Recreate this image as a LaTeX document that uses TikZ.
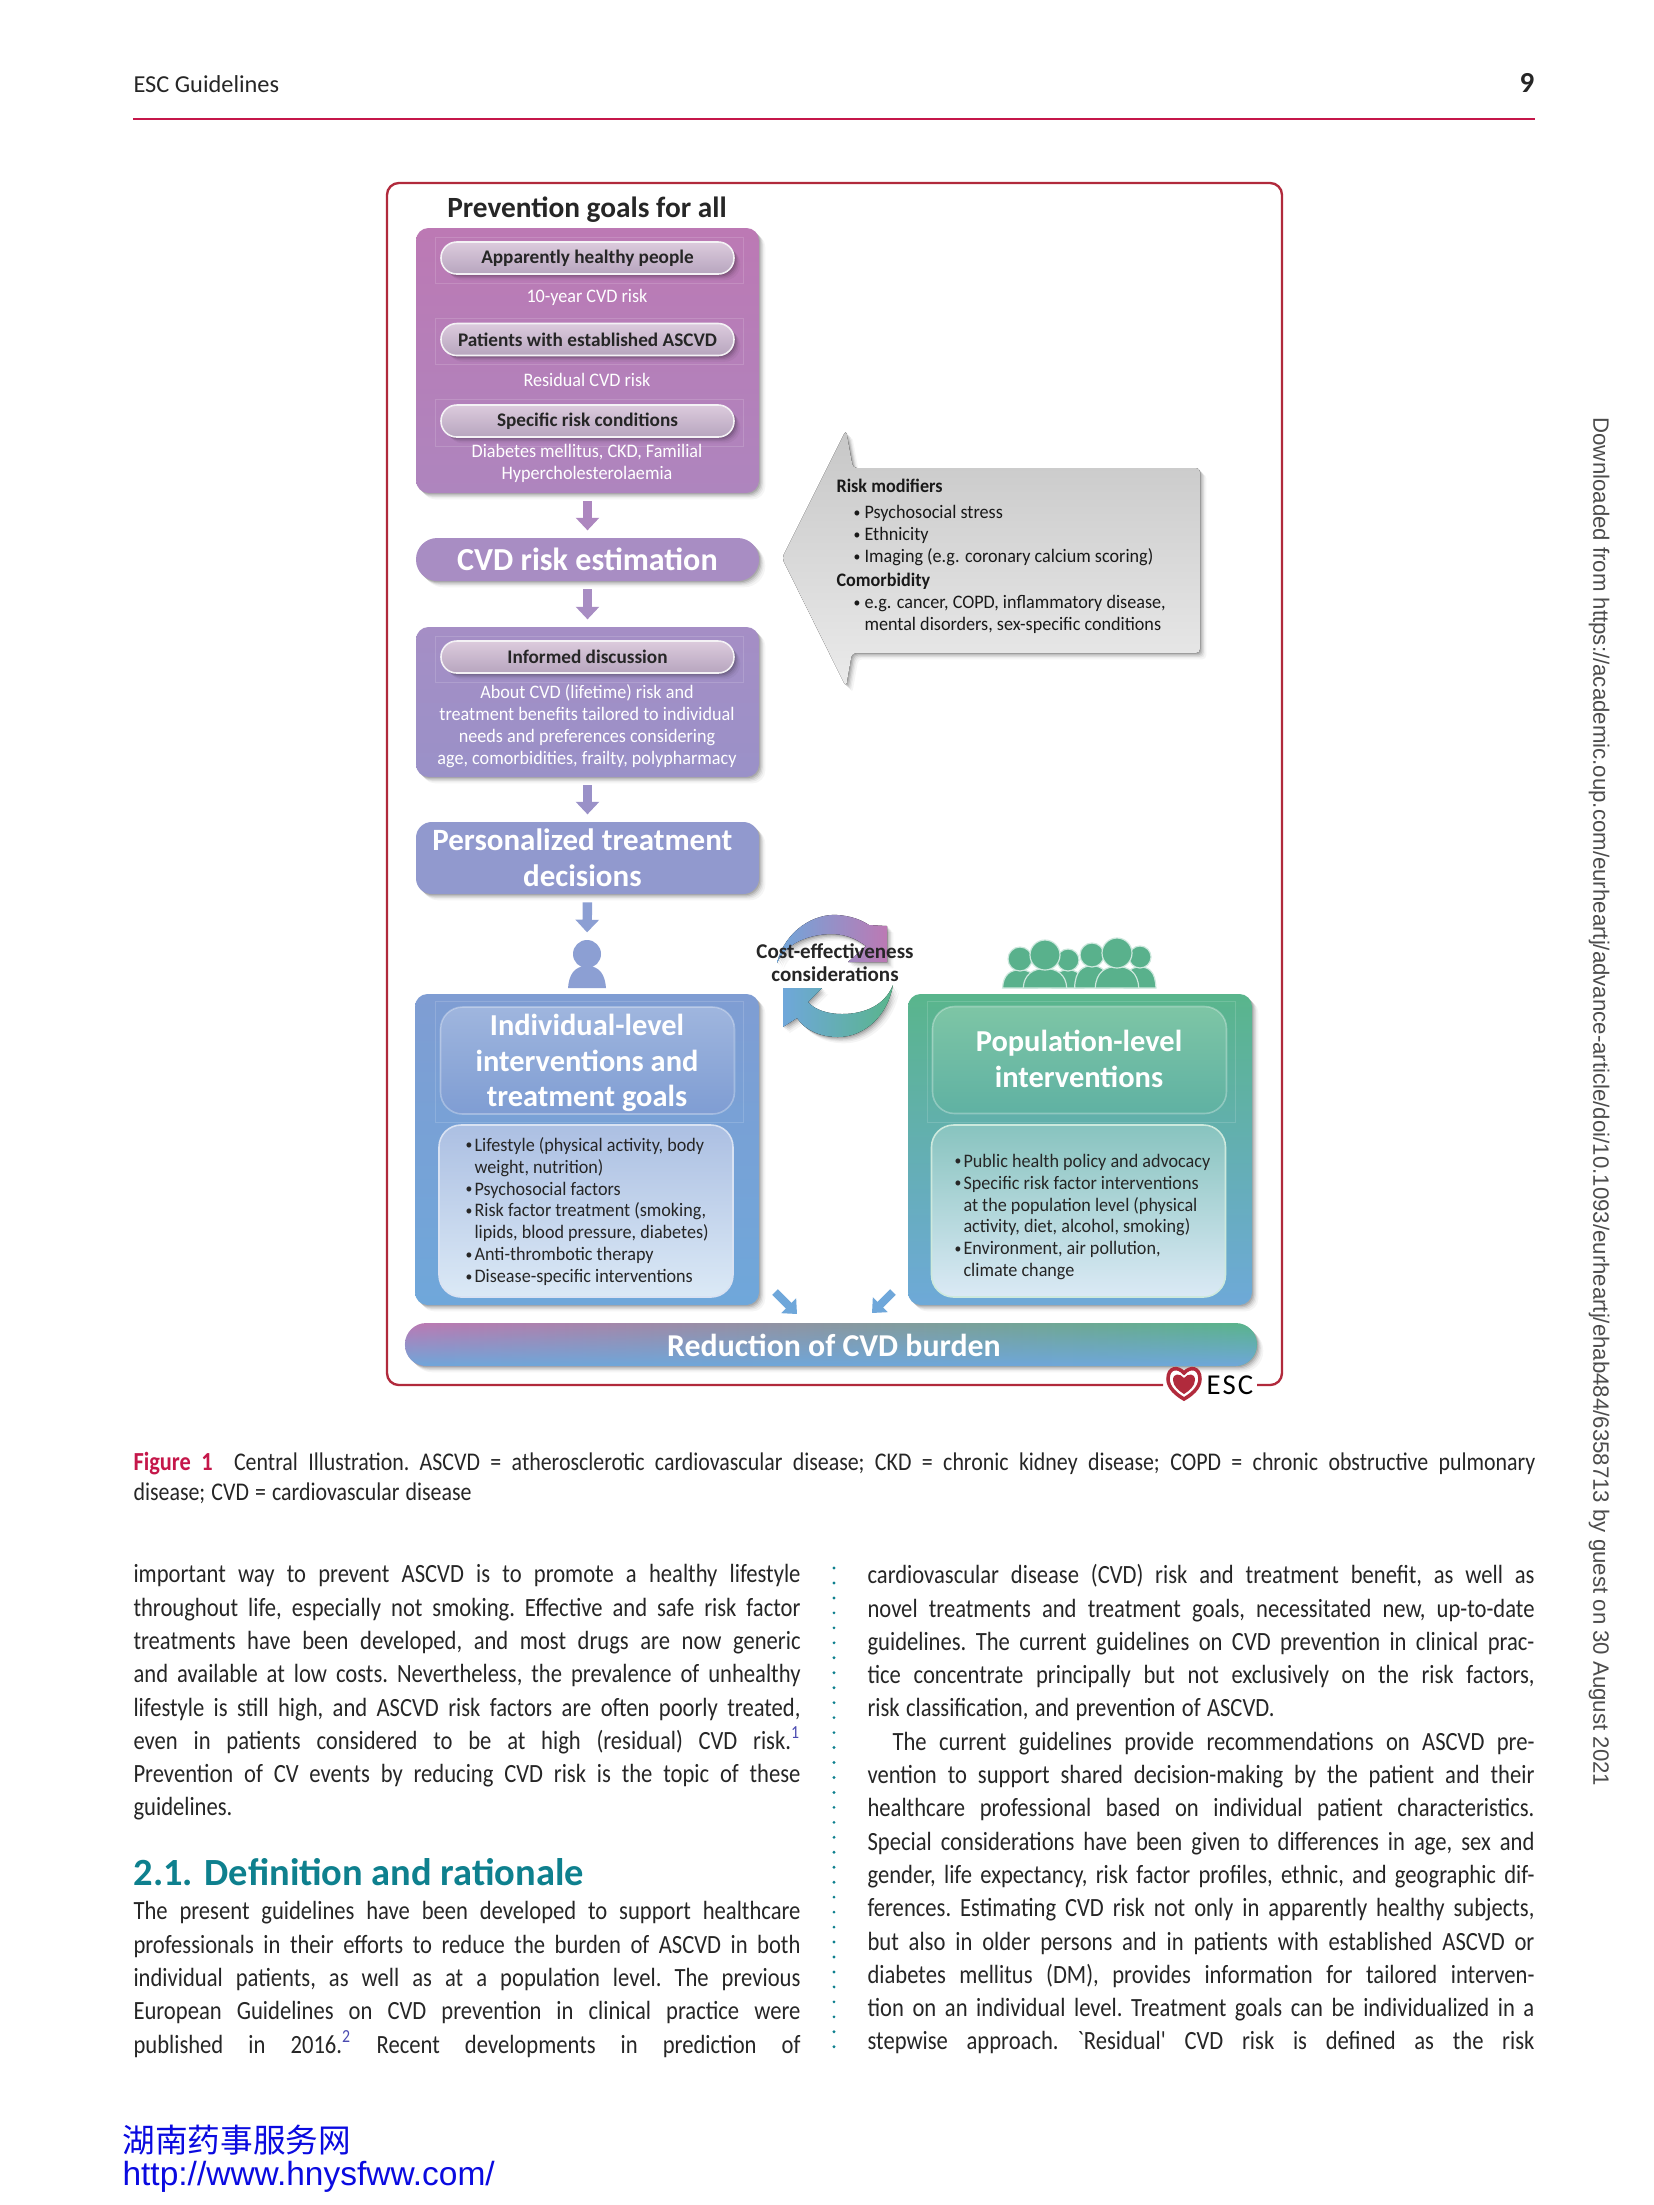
\documentclass[tikz,border=0pt]{standalone}
\usepackage{fontspec}
\setmainfont{Carlito}
\newfontfamily\bodyfont[FakeStretch=0.86]{Carlito}
\newfontfamily\figfont[FakeStretch=0.95]{Carlito}
\newfontfamily\cjk{Noto Sans CJK SC}
\newfontfamily\arialfont{Liberation Sans}
\usetikzlibrary{arrows.meta,shadows,fadings}
\newlength{\pu}
\setlength{\pu}{0.127mm}
\hyphenpenalty=10000
\tolerance=9999
\hbadness=10000
\hfuzz=20pt
\definecolor{framered}{HTML}{B12A3C}
\definecolor{rulered}{HTML}{C5174A}
\definecolor{headteal}{HTML}{0E808E}
\definecolor{refblue}{HTML}{4A4AB0}
\definecolor{inkdark}{HTML}{262626}
\definecolor{goaltop}{HTML}{BC79B4}
\definecolor{goalbot}{HTML}{AE85BE}
\definecolor{estim}{HTML}{A88DC3}
\definecolor{disctop}{HTML}{A58EC5}
\definecolor{discbot}{HTML}{9A91C8}
\definecolor{persol}{HTML}{9199CE}
\definecolor{persarrow}{HTML}{8C9FD3}
\definecolor{indivtop}{HTML}{7F9DD3}
\definecolor{indivbot}{HTML}{6FA7DA}
\definecolor{poptop}{HTML}{59B58C}
\definecolor{popbot}{HTML}{6EA9D8}
\definecolor{crowd}{HTML}{59B18C}
\definecolor{wmblue}{HTML}{0A0AE0}
\definecolor{pilltop}{HTML}{DCCBDD}
\definecolor{pillbot}{HTML}{B7A5BE}
\tikzfading[name=barfade, top color=transparent!100, bottom color=transparent!0]
\newcommand{\blt}{\makebox[9\pu][l]{\fontsize{5.2}{5.2}\selectfont\raisebox{0.5pt}{\textbullet}}}
\newcommand{\ind}{\hspace*{9\pu}}
\newcommand{\justifyon}{\frenchspacing\spaceskip=0.2em plus 1fill minus 0.07em\relax}
\newcommand{\plainspace}{\spaceskip=0.24em\relax}
\newcommand{\crowdperson}[3]{
  \fill[crowd, draw=white!70!crowd, line width=0.15mm] ({#1-1.45*#3},988) .. controls ({#1-1.4*#3},{#2+1.3*#3}) and ({#1-0.8*#3},{#2+0.9*#3}) .. (#1,{#2+0.9*#3}) .. controls ({#1+0.8*#3},{#2+0.9*#3}) and ({#1+1.4*#3},{#2+1.3*#3}) .. ({#1+1.45*#3},988) -- cycle;
  \fill[crowd, draw=white!70!crowd, line width=0.15mm] (#1,#2) circle ({#3*0.127mm});
}
\begin{document}
\begin{tikzpicture}[x=\pu,y=-\pu,
    softshadow/.style={
      general shadow={shadow xshift=0.15mm, shadow yshift=-0.15mm, opacity=0.12, fill=black},
      general shadow={shadow xshift=0.3mm, shadow yshift=-0.3mm, opacity=0.10, fill=black},
      general shadow={shadow xshift=0.45mm, shadow yshift=-0.45mm, opacity=0.07, fill=black},
      general shadow={shadow xshift=0.6mm, shadow yshift=-0.6mm, opacity=0.05, fill=black},
      general shadow={shadow xshift=0.8mm, shadow yshift=-0.8mm, opacity=0.04, fill=black}},
    panel/.style={softshadow, rounded corners=1.6mm, inner sep=0pt, minimum width=343*\pu},
    pill/.style={softshadow, rounded corners=2mm, inner sep=0pt, minimum width=293*\pu, minimum height=32*\pu, draw=white!85!pillbot, line width=0.2mm, top color=pilltop, bottom color=pillbot, text=inkdark, font=\fontsize{6.95}{8}\selectfont\bfseries},
    band/.style={softshadow, inner sep=0pt, text=white, align=center, font=\fontsize{11.2}{13}\selectfont\bfseries},
    headpanel/.style={rounded corners=2.8mm, inner sep=0pt, minimum width=294*\pu, minimum height=107*\pu, draw=white, draw opacity=0.3, line width=0.2mm},
    headtitle/.style={inner sep=0pt, text=white, align=center, font=\fontsize{11}{13.2}\selectfont\bfseries},
    listpanel/.style={rounded corners=2.8mm, inner sep=0pt, minimum width=294*\pu, minimum height=172*\pu, draw=white!70!indivtop, line width=0.2mm},
    ghost/.style={draw=white, draw opacity=0.15, line width=0.1mm},
    whitetext/.style={text=white, align=center, inner sep=0pt, font=\figfont\fontsize{6.9}{7.93}\selectfont},
    darklist/.style={text=inkdark, align=left, anchor=west, inner sep=0pt, font=\figfont\fontsize{6.9}{7.93}\selectfont},
    flowarrow/.style={-{Triangle[width=2.9mm,length=1.6mm]}, line width=1.2mm, shorten <=1mm, shorten >=0.9mm},
    smallarrow/.style={-{Triangle[width=2.6mm,length=1.5mm]}, line width=1mm, indivbot},
    bodytext/.style={anchor=north west, inner sep=0pt, text width=667*\pu, text=inkdark, font=\bodyfont\fontsize{9.5}{12.03}\selectfont},
    frameline/.style={draw=framered, line width=0.3mm, rounded corners=1.5mm}
  ]
    \useasboundingbox (0,0) rectangle (1654,2205);
    \fill[white] (0,0) rectangle (1654,2205);

    \node[anchor=west, inner sep=0pt, text=inkdark, font=\fontsize{8.8}{11}\selectfont] (runhead) at (133,84) {ESC Guidelines};
    \node[anchor=east, inner sep=0pt, text=inkdark, font=\fontsize{10.5}{12}\selectfont\bfseries] (pageno) at (1535,83) {9};
    \coordinate (ruleleft) at (133,119);
    \coordinate (ruleright) at (1535,119);
    \draw[rulered, line width=0.3mm] (ruleleft) -- (ruleright);

    \coordinate (framestart) at (1163,1385);
    \coordinate (frameend) at (1257,1385);
    \draw[frameline] (framestart) -- (387,1385) -- (387,183) -- (1282,183) -- (1282,1385) -- (frameend);

    \node[inner sep=0pt, text=inkdark, font=\fontsize{10.6}{13}\selectfont\bfseries] (goaltitle) at (587,210) {Prevention goals for all};

    \node[panel, top color=goaltop, bottom color=goalbot, minimum height=265*\pu] (goals) at (587.5,360.5) {};
    \draw[ghost] (435,237) rectangle (743,283);
    \draw[ghost] (435,318) rectangle (743,364);
    \draw[ghost] (435,399) rectangle (743,446);
    \node[pill] (healthy) at (587.5,258) {Apparently healthy people};
    \node[whitetext] (tenyear) at (587,297) {10-year CVD risk};
    \node[pill] (established) at (587.5,339.5) {Patients with established ASCVD};
    \node[whitetext] (residual) at (587,380) {Residual CVD risk};
    \node[pill] (specific) at (587.5,421) {Specific risk conditions};
    \node[whitetext] (conditions) at (587,463) {Diabetes mellitus, CKD, Familial\\Hypercholesterolaemia};

    \node[band, fill=estim, rounded corners=2.7mm, minimum width=343*\pu, minimum height=43*\pu, font=\fontsize{11.6}{14}\selectfont\bfseries] (estimate) at (587.5,559.5) {CVD risk estimation};

    \node[panel, top color=disctop, bottom color=discbot, minimum height=150*\pu] (discussion) at (587.5,702) {};
    \draw[ghost] (435,636) rectangle (743,682);
    \node[pill] (informed) at (587.5,657) {Informed discussion};
    \node[whitetext] (informtext) at (587,726) {About CVD (lifetime) risk and\\treatment benefits tailored to individual\\needs and preferences considering\\age, comorbidities, frailty, polypharmacy};

    \node[band, fill=persol, rounded corners=2mm, minimum width=343*\pu, minimum height=72*\pu] (personal) at (587.5,858) {\hspace*{-1.3mm}Personalized treatment\\\hspace*{-1.3mm}decisions};

    \node[circle, fill=persarrow, minimum size=28*\pu, inner sep=0pt] (personhead) at (587,954) {};
    \fill[persarrow] (568,988) .. controls (569,975) and (574,966) .. (587,966) .. controls (600,966) and (605,975) .. (606,988) -- cycle;

    \draw[flowarrow, goalbot!80!estim] (goals.south) -- (estimate.north);
    \draw[flowarrow, estim] (estimate.south) -- (discussion.north);
    \draw[flowarrow, discbot] (discussion.south) -- (personal.north);
    \draw[flowarrow, persarrow] (personal.south) -- (personhead.north);

    \node[panel, top color=indivtop, bottom color=indivbot, minimum width=344*\pu, minimum height=311*\pu] (indiv) at (587,1149.5) {};
    \draw[ghost] (435,1001) rectangle (743,1122);
    \node[headpanel, top color=white!25!indivtop, bottom color=indivtop] (indivhead) at (587.5,1060.5) {};
    \node[headtitle, font=\fontsize{11}{12.9}\selectfont\bfseries] (indivtitle) at (587,1063) {Individual-level\\interventions and\\treatment goals};
    \node[listpanel, top color=white!35!indivtop, bottom color=white!75!indivbot] (indivlist) at (586,1211) {};
    \node[darklist] (indivitems) at (465,1211.5) {\blt Lifestyle (physical activity, body\\\ind weight, nutrition)\\\blt Psychosocial factors\\\blt Risk factor treatment (smoking,\\\ind lipids, blood pressure, diabetes)\\\blt Anti-thrombotic therapy\\\blt Disease-specific interventions};

    \node[panel, top color=poptop, bottom color=popbot, minimum width=344*\pu, minimum height=311*\pu] (pop) at (1080,1149.5) {};
    \draw[ghost] (927,1001) rectangle (1235,1122);
    \node[headpanel, top color=white!22!poptop, bottom color=poptop!70!popbot] (pophead) at (1079.5,1060) {};
    \node[headtitle] (poptitle) at (1079,1059) {Population-level\\interventions};
    \node[listpanel, draw=white!70!poptop, top color=white!35!poptop!70!popbot, bottom color=white!75!popbot] (poplist) at (1078.5,1211) {};
    \node[darklist] (popitems) at (954,1217) {\blt Public health policy and advocacy\\\blt Specific risk factor interventions\\\ind at the population level (physical\\\ind activity, diet, alcohol, smoking)\\\blt Environment, air pollution,\\\ind climate change};

    \crowdperson{1020}{959}{12}
    \crowdperson{1068}{960}{11}
    \crowdperson{1092}{955}{12}
    \crowdperson{1140}{957}{11}
    \crowdperson{1045}{955}{15}
    \crowdperson{1117}{953}{15}

    \fill[left color=indivbot, right color=goaltop, softshadow] (777,963) .. controls (785,930) and (815,913) .. (838,915) .. controls (850,916) and (860,919) .. (869,925) -- (887,926) -- (887,962) -- (848,962) -- (866,946) .. controls (855,938) and (845,934) .. (830,934) .. controls (805,935) and (785,945) .. (777,963) -- cycle;
    \fill[left color=indivbot, middle color=poptop!75!indivbot, right color=poptop, softshadow] (893,985) .. controls (888,1015) and (865,1037) .. (838,1037) .. controls (820,1037) and (805,1030) .. (797,1018) -- (783,1027) -- (783,988) -- (822,988) -- (808,1002) .. controls (815,1010) and (828,1014) .. (842,1014) .. controls (865,1014) and (885,1005) .. (893,985) -- cycle;
    \node[inner sep=0pt, align=center, text=inkdark, font=\fontsize{7.6}{8.4}\selectfont\bfseries] (costnote) at (835,962.5) {Cost-effectiveness\\considerations};

    \node[softshadow, left color=goaltop, right color=poptop, rounded corners=2.7mm, minimum width=852*\pu, minimum height=43*\pu, inner sep=0pt] (burden) at (831,1344.5) {};
    \fill[indivbot, path fading=barfade, rounded corners=2.7mm] (405,1323) rectangle (1257,1366);
    \node[inner sep=0pt, text=white, font=\fontsize{11.5}{13}\selectfont\bfseries] (burdenlabel) at (834,1345) {Reduction of CVD burden};

    \coordinate (indivtail) at (775,1292);
    \coordinate (indivtip) at (797,1314);
    \coordinate (poptail) at (893,1292);
    \coordinate (poptip) at (872,1313);
    \draw[smallarrow] (indivtail) -- (indivtip);
    \draw[smallarrow] (poptail) -- (poptip);

    \fill[softshadow, rounded corners=0.5mm, top color=black!22, bottom color=black!8] (782,558) -- (846,430) -- (853,468) -- (1200,468) -- (1200,653) -- (852,653) -- (846,687) -- cycle;
    \node[darklist, text=black!90] (riskitems) at (836,556.5) {\textbf{Risk modifiers}\\[1.4pt]\hspace*{17\pu}\blt\hspace*{2\pu}Psychosocial stress\\\hspace*{17\pu}\blt\hspace*{2\pu}Ethnicity\\\hspace*{17\pu}\blt\hspace*{2\pu}Imaging (e.g. coronary calcium scoring)\\[0.7pt]\textbf{Comorbidity}\\\hspace*{17\pu}\blt\hspace*{2\pu}e.g. cancer, COPD, inflammatory disease,\\\hspace*{17\pu}\ind\hspace*{2\pu}mental disorders, sex-specific conditions};

    \filldraw[fill=white, draw=framered, line width=0.45mm] (1184,1373) .. controls (1178,1366) and (1168,1367) .. (1168,1379) .. controls (1168,1388) and (1177,1395) .. (1184,1399) .. controls (1191,1395) and (1200,1388) .. (1200,1379) .. controls (1200,1367) and (1190,1366) .. (1184,1373) -- cycle;
    \fill[framered] (1184,1378) .. controls (1180,1373) and (1173,1373) .. (1173,1380) .. controls (1173,1386) and (1179,1391) .. (1184,1394) .. controls (1189,1391) and (1195,1386) .. (1195,1380) .. controls (1195,1373) and (1188,1373) .. (1184,1378) -- cycle;
    \node[inner sep=0pt, text=black, font=\fontsize{10.4}{12}\selectfont] (esclogo) at (1230,1385) {E\kern0.25mm S\kern0.25mm C};

    \node[anchor=north west, inner sep=0pt, text width=1402*\pu, text=inkdark, font=\bodyfont\fontsize{9.2}{10.8}\selectfont] (caption) at (133,1451.5) {\justifyon\textcolor{rulered}{\textbf{\fontsize{9.4}{10.8}\selectfont Figure 1}}\hspace{1.4mm} Central Illustration. ASCVD = atherosclerotic cardiovascular disease; CKD = chronic kidney disease; COPD = chronic obstructive pulmonary\linebreak\plainspace disease; CVD = cardiovascular disease};

    \node[bodytext] (leftone) at (133,1564) {\justifyon important way to prevent ASCVD is to promote a healthy lifestyle\linebreak throughout life, especially not smoking. Effective and safe risk factor\linebreak treatments have been developed, and most drugs are now generic\linebreak and available at low costs. Nevertheless, the prevalence of unhealthy\linebreak lifestyle is still high, and ASCVD risk factors are often poorly treated,\linebreak even in patients considered to be at high (residual) CVD risk.\textcolor{refblue}{\textsuperscript{1}}\linebreak Prevention of CV events by reducing CVD risk is the topic of these\linebreak guidelines.};
    \node[anchor=west, inner sep=0pt, text=headteal, font=\fontsize{13.9}{16}\selectfont\bfseries] (sectionhead) at (133,1872) {2.1. Definition and rationale};
    \node[bodytext] (lefttwo) at (133,1901) {\justifyon The present guidelines have been developed to support healthcare\linebreak professionals in their efforts to reduce the burden of ASCVD in both\linebreak individual patients, as well as at a population level. The previous\linebreak European Guidelines on CVD prevention in clinical practice were\linebreak published in 2016.\textcolor{refblue}{\textsuperscript{2}} Recent developments in prediction of\linebreak\mbox{}};
    \node[bodytext] (rightcol) at (867,1564) {\justifyon cardiovascular disease (CVD) risk and treatment benefit, as well as\linebreak novel treatments and treatment goals, necessitated new, up-to-date\linebreak guidelines. The current guidelines on CVD prevention in clinical prac-\linebreak tice concentrate principally but not exclusively on the risk factors,\linebreak\plainspace risk classification, and prevention of ASCVD.\par
    \justifyon\hspace*{25\pu}The current guidelines provide recommendations on ASCVD pre-\linebreak vention to support shared decision-making by the patient and their\linebreak healthcare professional based on individual patient characteristics.\linebreak Special considerations have been given to differences in age, sex and\linebreak gender, life expectancy, risk factor profiles, ethnic, and geographic dif-\linebreak ferences. Estimating CVD risk not only in apparently healthy subjects,\linebreak but also in older persons and in patients with established ASCVD or\linebreak diabetes mellitus (DM), provides information for tailored interven-\linebreak tion on an individual level. Treatment goals can be individualized in a\linebreak stepwise approach. `Residual' CVD risk is defined as the risk\linebreak\mbox{}};
    \coordinate (dividertop) at (834,1568);
    \coordinate (dividerbot) at (834,2052);
    \draw[headteal, line width=0.4mm, line cap=round, dash pattern=on 0pt off 1.9mm] (dividertop) -- (dividerbot);

    \node[rotate=-90, inner sep=0pt, text=black!70, font=\arialfont\fontsize{8.03}{10}\selectfont] (download) at (1599,1102) {Downloaded from https://academic.oup.com/eurheartj/advance-article/doi/10.1093/eurheartj/ehab484/6358713 by guest on 30 August 2021};

    \node[anchor=west, inner sep=0pt, text=wmblue, font=\cjk\fontsize{11.8}{14}\selectfont] (wmname) at (122,2140) {湖南药事服务网};
    \node[anchor=west, inner sep=0pt, text=wmblue, font=\arialfont\fontsize{12.1}{14}\selectfont] (wmurl) at (122,2177) {http://www.hnysfww.com/};
\end{tikzpicture}
\end{document}
